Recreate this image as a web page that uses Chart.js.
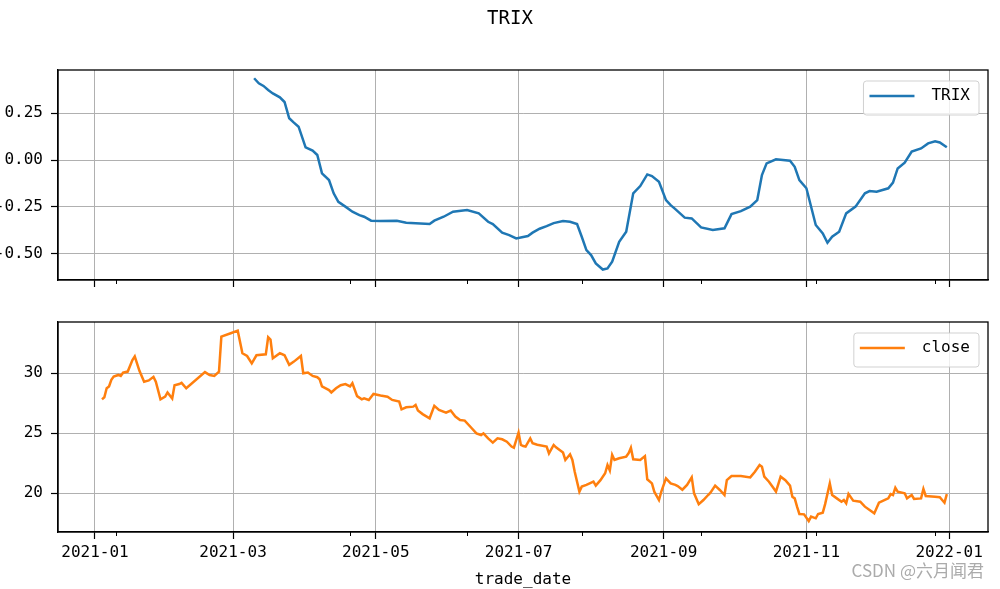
<!DOCTYPE html>
<html>
<head>
<meta charset="utf-8">
<title>TRIX</title>
<script src="https://cdn.jsdelivr.net/npm/chart.js@4.4.1/dist/chart.umd.min.js"></script>
<style>
  html, body { margin: 0; padding: 0; background: #fff; }
  #wrap { position: relative; width: 1000px; height: 589px; overflow: hidden; }
  #trixChart { position: absolute; left: 0; top: 0; }
  #closeChart { position: absolute; left: 0; top: 300px; }
  #mark {
    position: absolute; right: 16px; top: 559px;
    font: 17px/22px "Noto Sans CJK SC", sans-serif; color: #ababab;
  }
</style>
</head>
<body>
<div id="wrap">
  <canvas id="trixChart" width="1000" height="300"></canvas>
  <canvas id="closeChart" width="1000" height="289"></canvas>
  <div id="mark">CSDN @六月闻君</div>
</div>
<script>
// ---- data ----
const trixDates = [
  "2021-03-10","2021-03-12","2021-03-14","2021-03-16","2021-03-18","2021-03-21","2021-03-23","2021-03-25",
  "2021-03-27","2021-03-29","2021-04-01","2021-04-04","2021-04-06","2021-04-08","2021-04-11","2021-04-13",
  "2021-04-15","2021-04-18","2021-04-21","2021-04-24","2021-04-26","2021-04-29","2021-05-03","2021-05-10",
  "2021-05-14","2021-05-24","2021-05-26","2021-05-30","2021-06-03","2021-06-09","2021-06-14","2021-06-18",
  "2021-06-20","2021-06-24","2021-06-27","2021-06-30","2021-07-05","2021-07-07","2021-07-10","2021-07-13",
  "2021-07-16","2021-07-20","2021-07-23","2021-07-26","2021-07-28","2021-07-30","2021-08-01","2021-08-03",
  "2021-08-06","2021-08-08","2021-08-10","2021-08-13","2021-08-16","2021-08-19","2021-08-22","2021-08-25",
  "2021-08-27","2021-08-30","2021-09-02","2021-09-04","2021-09-06","2021-09-10","2021-09-13","2021-09-17",
  "2021-09-22","2021-09-27","2021-09-30","2021-10-04","2021-10-08","2021-10-11","2021-10-13","2021-10-15",
  "2021-10-19","2021-10-22","2021-10-25","2021-10-27","2021-10-29","2021-11-01","2021-11-05","2021-11-08",
  "2021-11-10","2021-11-12","2021-11-15","2021-11-18","2021-11-22","2021-11-26","2021-11-28","2021-12-01",
  "2021-12-06","2021-12-08","2021-12-10","2021-12-13","2021-12-16","2021-12-20","2021-12-23","2021-12-26",
  "2021-12-28","2021-12-31"
];
const trixValues = [
  0.437, 0.41, 0.396, 0.374, 0.356, 0.335, 0.31, 0.223,
  0.2, 0.178, 0.068, 0.05, 0.027, -0.071, -0.107, -0.178,
  -0.223, -0.249, -0.276, -0.294, -0.303, -0.324, -0.326, -0.324,
  -0.335, -0.342, -0.324, -0.303, -0.276, -0.267, -0.285, -0.33,
  -0.342, -0.388, -0.401, -0.419, -0.406, -0.388, -0.367, -0.353,
  -0.337, -0.326, -0.33, -0.342, -0.41, -0.481, -0.508, -0.552,
  -0.585, -0.579, -0.543, -0.437, -0.383, -0.178, -0.139, -0.077,
  -0.086, -0.116, -0.214, -0.241, -0.262, -0.308, -0.312, -0.36,
  -0.374, -0.365, -0.289, -0.273, -0.249, -0.214, -0.08, -0.018,
  0.004, 0.0, -0.004, -0.036, -0.107, -0.151, -0.347, -0.392,
  -0.442, -0.41, -0.383, -0.285, -0.249, -0.178, -0.166, -0.169,
  -0.151, -0.121, -0.045, -0.014, 0.045, 0.062, 0.089, 0.1,
  0.094, 0.068
];

const closeDates = [
  "2021-01-04","2021-01-05","2021-01-06","2021-01-07","2021-01-08","2021-01-09","2021-01-11","2021-01-12",
  "2021-01-13","2021-01-15","2021-01-17","2021-01-18","2021-01-20","2021-01-22","2021-01-24","2021-01-26",
  "2021-01-27","2021-01-29","2021-01-31","2021-02-01","2021-02-03","2021-02-04","2021-02-06","2021-02-07",
  "2021-02-09","2021-02-17","2021-02-19","2021-02-21","2021-02-23","2021-02-24","2021-02-28","2021-03-03",
  "2021-03-05","2021-03-07","2021-03-09","2021-03-11","2021-03-15","2021-03-16","2021-03-17","2021-03-18",
  "2021-03-21","2021-03-23","2021-03-25","2021-03-27","2021-03-30","2021-03-31","2021-04-02","2021-04-04",
  "2021-04-06","2021-04-07","2021-04-08","2021-04-11","2021-04-12","2021-04-14","2021-04-16","2021-04-18",
  "2021-04-20","2021-04-21","2021-04-23","2021-04-25","2021-04-26","2021-04-28","2021-04-30","2021-05-03",
  "2021-05-06","2021-05-08","2021-05-11","2021-05-12","2021-05-14","2021-05-17","2021-05-18","2021-05-19",
  "2021-05-21","2021-05-24","2021-05-26","2021-05-28","2021-05-31","2021-06-02","2021-06-04","2021-06-06",
  "2021-06-08","2021-06-11","2021-06-13","2021-06-15","2021-06-16","2021-06-18","2021-06-20","2021-06-22",
  "2021-06-24","2021-06-26","2021-06-28","2021-06-29","2021-07-01","2021-07-02","2021-07-03","2021-07-04",
  "2021-07-06","2021-07-07","2021-07-09","2021-07-13","2021-07-14","2021-07-16","2021-07-17","2021-07-20",
  "2021-07-21","2021-07-23","2021-07-24","2021-07-25","2021-07-27","2021-07-28","2021-07-30","2021-08-02",
  "2021-08-03","2021-08-05","2021-08-07","2021-08-08","2021-08-09","2021-08-10","2021-08-11","2021-08-13",
  "2021-08-16","2021-08-17","2021-08-18","2021-08-19","2021-08-22","2021-08-24","2021-08-25","2021-08-27",
  "2021-08-28","2021-08-30","2021-08-31","2021-09-02","2021-09-04","2021-09-06","2021-09-07","2021-09-09",
  "2021-09-11","2021-09-13","2021-09-14","2021-09-16","2021-09-18","2021-09-20","2021-09-21","2021-09-23",
  "2021-09-25","2021-09-27","2021-09-28","2021-09-30","2021-10-04","2021-10-08","2021-10-10","2021-10-12",
  "2021-10-13","2021-10-14","2021-10-16","2021-10-18","2021-10-19","2021-10-21","2021-10-23","2021-10-25",
  "2021-10-26","2021-10-27","2021-10-28","2021-10-29","2021-10-31","2021-11-02","2021-11-03","2021-11-05",
  "2021-11-06","2021-11-08","2021-11-09","2021-11-11","2021-11-12","2021-11-14","2021-11-16","2021-11-17",
  "2021-11-18","2021-11-19","2021-11-21","2021-11-24","2021-11-26","2021-11-30","2021-12-02","2021-12-05",
  "2021-12-06","2021-12-07","2021-12-08","2021-12-09","2021-12-10","2021-12-13","2021-12-14","2021-12-16",
  "2021-12-17","2021-12-20","2021-12-21","2021-12-22","2021-12-26","2021-12-28","2021-12-30","2021-12-31"
];
const closeValues = [
  27.83, 28.0, 28.75, 28.9, 29.45, 29.72, 29.86, 29.78,
  30.05, 30.14, 31.1, 31.4, 30.2, 29.3, 29.4, 29.7,
  29.3, 27.83, 28.05, 28.4, 27.9, 29.0, 29.1, 29.2,
  28.75, 30.1, 29.86, 29.78, 30.14, 33.05, 33.33, 33.55,
  31.67, 31.44, 30.83, 31.5, 31.58, 33.0, 32.8, 31.25,
  31.67, 31.5, 30.7, 30.97, 31.44, 30.0, 30.06, 29.78,
  29.67, 29.5, 28.9, 28.6, 28.4, 28.75, 29.0, 29.1,
  28.9, 29.17, 28.1, 27.83, 27.92, 27.78, 28.28, 28.15,
  28.05, 27.78, 27.64, 27.0, 27.17, 27.22, 27.36, 26.9,
  26.6, 26.25, 27.28, 26.94, 26.72, 26.9, 26.4, 26.1,
  26.06, 25.42, 25.0, 24.86, 25.0, 24.58, 24.22, 24.58,
  24.5, 24.3, 23.9, 23.8, 25.06, 24.03, 23.94, 23.9,
  24.58, 24.17, 24.05, 23.9, 23.33, 24.03, 23.83, 23.4,
  22.78, 23.25, 22.78, 21.8, 20.14, 20.56, 20.7, 20.97,
  20.64, 21.1, 21.67, 22.36, 21.9, 23.2, 22.78, 22.92,
  23.06, 23.33, 23.8, 22.83, 22.78, 23.1, 21.17, 20.83,
  20.14, 19.44, 20.14, 21.25, 20.83, 20.7, 20.6, 20.3,
  20.7, 21.33, 20.0, 19.1, 19.44, 19.86, 20.06, 20.64,
  20.28, 19.86, 21.1, 21.44, 21.44, 21.33, 21.8, 22.36,
  22.22, 21.4, 20.97, 20.42, 20.14, 21.39, 21.1, 20.64,
  19.72, 19.58, 18.89, 18.28, 18.25, 17.69, 18.06, 17.92,
  18.28, 18.39, 19.1, 20.83, 19.86, 19.58, 19.3, 19.44,
  19.17, 19.94, 19.39, 19.3, 18.89, 18.33, 19.22, 19.5,
  19.58, 19.94, 19.86, 20.47, 20.14, 20.0, 19.58, 19.86,
  19.53, 19.58, 20.36, 19.78, 19.72, 19.67, 19.22, 19.94
];

const majorTickDates = ["2021-01-01","2021-03-01","2021-05-01","2021-07-01","2021-09-01","2021-11-01","2022-01-01"];
const minorTickDates = ["2021-01-10","2021-04-20","2021-06-09","2021-07-28","2021-09-17","2021-11-05","2021-12-26"];
const trixTicks = [-0.5, -0.25, 0, 0.25];
const closeTicks = [20, 25, 30];
const figTitle = "TRIX";

// ---- helpers ----
const DAY0 = Date.UTC(2021, 0, 1);
function toDay(s) {
  const [y, m, d] = s.split("-").map(Number);
  return (Date.UTC(y, m - 1, d) - DAY0) / 86400000;
}
function points(dates, values) {
  return dates.map((d, i) => ({ x: toDay(d), y: values[i] }));
}

const MONO = '"DejaVu Sans Mono", "Liberation Mono", monospace';
const tickFont = { family: MONO, size: 16 };
const GRID = "#b0b0b0";

// frame on all four sides + small minor ticks under the plot
const frame = {
  id: "frame",
  afterDraw(chart) {
    const { ctx, chartArea: a } = chart;
    const xs = chart.scales.x;
    ctx.save();
    ctx.strokeStyle = "#000";
    ctx.lineWidth = 1.3;
    ctx.strokeRect(a.left, a.top, a.right - a.left, a.bottom - a.top);
    ctx.lineWidth = 1;
    minorTickDates.forEach(d => {
      const px = Math.round(xs.getPixelForValue(toDay(d))) + 0.5;
      ctx.beginPath();
      ctx.moveTo(px, a.bottom);
      ctx.lineTo(px, a.bottom + 4);
      ctx.stroke();
    });
    ctx.restore();
  }
};

// figure title (suptitle) centred on the figure, not the axes
const suptitle = {
  id: "suptitle",
  afterDraw(chart, args, opts) {
    if (!opts.text) return;
    const { ctx } = chart;
    ctx.save();
    ctx.font = "19px " + MONO;
    ctx.fillStyle = "#000";
    ctx.textAlign = "center";
    ctx.textBaseline = "middle";
    ctx.fillText(opts.text, 510, 19);
    ctx.restore();
  }
};

// matplotlib-like legend box in the upper right corner
const boxLegend = {
  id: "boxLegend",
  afterDraw(chart) {
    const { ctx, chartArea: a } = chart;
    const ds = chart.data.datasets[0];
    ctx.save();
    ctx.font = "16px " + MONO;
    const tw = ctx.measureText(ds.label).width;
    const w = 77 + tw, h = 34;
    const x = a.right - 9 - w, y = a.top + 11;
    ctx.beginPath();
    ctx.roundRect(x, y, w, h, 3);
    ctx.fillStyle = "rgba(255,255,255,0.8)";
    ctx.fill();
    ctx.strokeStyle = "rgba(204,204,204,0.9)";
    ctx.lineWidth = 1;
    ctx.stroke();
    const cy = y + h / 2 - 2;
    ctx.strokeStyle = ds.borderColor;
    ctx.lineWidth = ds.borderWidth;
    ctx.beginPath();
    ctx.moveTo(x + 6, cy);
    ctx.lineTo(x + 51, cy);
    ctx.stroke();
    ctx.fillStyle = "#000";
    ctx.textBaseline = "middle";
    ctx.fillText(ds.label, x + 68, cy);
    ctx.restore();
  }
};

function xAxis(showLabels, axisHeight) {
  return {
    type: "linear",
    min: -15.8,
    max: 381.6,
    afterBuildTicks: s => { s.ticks = majorTickDates.map(d => ({ value: toDay(d) })); },
    afterFit: s => { s.height = axisHeight; },
    ticks: {
      display: showLabels,
      autoSkip: false,
      maxRotation: 0,
      padding: 4,
      color: "#000",
      font: tickFont,
      callback: (v, i) => majorTickDates[i].slice(0, 7)
    },
    grid: { color: GRID, lineWidth: 1, tickLength: 7, tickColor: "#000", tickWidth: 1.2 },
    border: { color: "#000", width: 1.3 },
    title: {
      display: showLabels,
      text: "trade_date",
      color: "#000",
      font: tickFont,
      padding: { top: 0, bottom: 0 }
    }
  };
}

function yAxis(min, max, ticks, fmt) {
  return {
    type: "linear",
    min: min,
    max: max,
    afterBuildTicks: s => { s.ticks = ticks.map(v => ({ value: v })); },
    afterFit: s => { s.width = 58; },
    ticks: { padding: 8, color: "#000", font: tickFont, callback: fmt },
    grid: { color: GRID, lineWidth: 1, tickLength: 7, tickColor: "#000", tickWidth: 1.2 },
    border: { color: "#000", width: 1.3 }
  };
}

// ---- top: TRIX ----
new Chart(document.getElementById("trixChart"), {
  type: "line",
  data: {
    datasets: [{
      label: "TRIX",
      data: points(trixDates, trixValues),
      borderColor: "#1f77b4",
      borderWidth: 2.5,
      pointRadius: 0,
      tension: 0,
      fill: false
    }]
  },
  options: {
    responsive: false,
    animation: false,
    layout: { padding: { left: 0, right: 12, top: 70, bottom: 0 } },
    plugins: {
      legend: { display: false },
      tooltip: { enabled: false },
      suptitle: { text: figTitle }
    },
    scales: {
      x: xAxis(false, 20),
      y: yAxis(-0.641, 0.481, trixTicks, v => v.toFixed(2))
    }
  },
  plugins: [frame, boxLegend, suptitle]
});

// ---- bottom: close ----
new Chart(document.getElementById("closeChart"), {
  type: "line",
  data: {
    datasets: [{
      label: "close",
      data: points(closeDates, closeValues),
      borderColor: "#ff7f0e",
      borderWidth: 2.5,
      pointRadius: 0,
      tension: 0,
      fill: false
    }]
  },
  options: {
    responsive: false,
    animation: false,
    layout: { padding: { left: 0, right: 12, top: 22, bottom: 0 } },
    plugins: {
      legend: { display: false },
      tooltip: { enabled: false }
    },
    scales: {
      x: xAxis(true, 57),
      y: yAxis(16.78, 34.27, closeTicks, v => String(v))
    }
  },
  plugins: [frame, boxLegend]
});
</script>
</body>
</html>
